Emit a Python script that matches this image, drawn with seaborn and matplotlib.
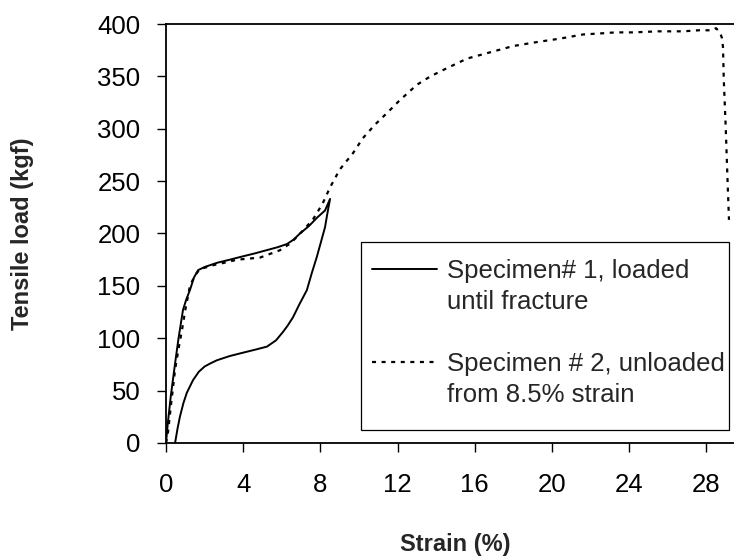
import matplotlib
matplotlib.use("Agg")
import matplotlib.pyplot as plt
import seaborn as sns
import pandas as pd
from matplotlib.lines import Line2D
from matplotlib.patches import Rectangle

# Specimen 1 (solid): loading to ~8.5 % then unloading
spec1_strain = [0, 0.1, 0.25, 0.47, 0.65, 0.88, 1.05, 1.24, 1.45, 1.66, 2.0, 2.64, 3.3, 3.94,
                4.6, 5.2, 5.8, 6.27, 6.6, 6.94, 7.4, 7.82, 8.24, 8.5,
                8.35, 8.24, 8.0, 7.82, 7.55, 7.3, 6.9, 6.58, 6.3, 6.06, 5.7, 5.23, 4.6, 3.94,
                3.3, 2.64, 2.3, 2.0, 1.7, 1.4, 1.08, 0.9, 0.72, 0.6, 0.47]
spec1_load = [0, 20, 45, 76, 100, 127, 137, 146, 158, 165, 168, 172, 175, 178,
              181, 184, 187, 190, 194, 200, 207, 215, 222, 233,
              218, 206, 190, 178, 162, 146, 132, 120, 112, 106, 98, 92, 89, 86,
              83, 79, 76, 73, 68, 60, 48, 38, 25, 14, 0]

# Specimen 2 (dotted): loaded to fracture
spec2_strain = [0, 0.09, 0.25, 0.47, 0.65, 0.83, 1.0, 1.24, 1.5, 1.76, 2.5, 3.0, 3.68, 4.87,
                5.9, 6.4, 6.8, 7.2, 7.6, 8.1, 8.5, 9.0, 9.7, 10.2, 10.83, 11.45, 12.1, 13.0,
                13.7, 14.35, 15.6, 16.8, 18.0, 19.3, 20.4, 21.6, 22.5, 23.3, 24.2, 25.5,
                26.8, 27.6, 28.3, 28.5, 28.7, 28.8, 28.86, 28.9, 29.0, 29.07, 29.17]
spec2_load = [0, 8, 35, 70, 90, 108, 127, 150, 160, 166, 170, 172, 175, 177,
              184, 190, 197, 205, 213, 228, 244, 261, 277, 291, 304, 315, 327, 342,
              350, 356, 367, 373, 379, 383, 386, 390, 391, 392, 392, 393,
              393, 394, 394, 396, 392, 387, 378, 347, 302, 264, 213]

x_ticks = [0, 4, 8, 12, 16, 20, 24, 28]
y_ticks = [0, 50, 100, 150, 200, 250, 300, 350, 400]
legend_rows = ["Specimen# 1, loaded", "until fracture", "",
               "Specimen # 2, unloaded", "from 8.5% strain"]

sns.set_style("ticks")
plt.rcParams['font.family'] = ['Liberation Sans', 'DejaVu Sans']
plt.rcParams['lines.scale_dashes'] = False

W, H = 734, 559
fig = plt.figure(figsize=(W / 100, H / 100), dpi=100)
ax = fig.add_axes([166 / W, (H - 443) / H, 579 / W, 419 / H])

df1 = pd.DataFrame({"strain": spec1_strain, "load": spec1_load})
df2 = pd.DataFrame({"strain": spec2_strain, "load": spec2_load})
dot_style = (0, (2.9, 4.0))
sns.lineplot(data=df1, x="strain", y="load", sort=False, estimator=None,
             color="black", linewidth=1.4, ax=ax)
sns.lineplot(data=df2, x="strain", y="load", sort=False, estimator=None,
             color="black", linewidth=1.6, linestyle=dot_style, ax=ax)

ax.set_xlim(0, 30)
ax.set_ylim(0, 400)
ax.set_xticks(x_ticks)
ax.set_yticks(y_ticks)
for s in ["left", "bottom", "top"]:
    ax.spines[s].set_color("black")
    ax.spines[s].set_linewidth(1.3)
ax.spines["right"].set_visible(False)
ax.tick_params(axis="both", direction="out", length=6.5, width=1.0,
               color="black", labelcolor="black", labelsize=18.5)
ax.tick_params(axis="x", pad=15)
ax.tick_params(axis="y", pad=12)

ax.set_xlabel("Strain (%)", fontsize=17, fontweight="bold")
ax.set_ylabel("Tensile load (kgf)", fontsize=17, fontweight="bold")
ax.xaxis.set_label_coords(0.5, -0.215)
ax.yaxis.set_label_coords(-0.228, 0.5)

blank = Line2D([], [], linestyle="none")
handles = [Line2D([], [], color="black", linewidth=1.4), blank, blank,
           Line2D([], [], color="black", linewidth=1.6, linestyle=dot_style), blank]
ax.legend(handles, legend_rows, loc="upper left",
          bbox_to_anchor=(372 / W, 1 - 259 / H), bbox_transform=fig.transFigure,
          frameon=False, borderpad=0, borderaxespad=0, fontsize=18.5,
          handlelength=2.53, handletextpad=0.39, labelspacing=0.27)
fig.patches.append(Rectangle((361 / W, (H - 430) / H), 368 / W, 188 / H,
                             transform=fig.transFigure, fill=False,
                             edgecolor="black", linewidth=0.9))

fig.savefig("out.png", dpi=100)
